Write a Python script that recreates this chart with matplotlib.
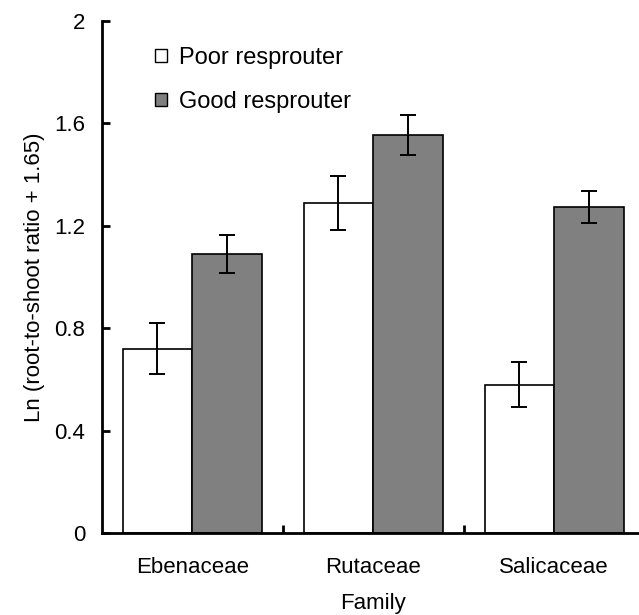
# Librerias

import numpy as np
import matplotlib
matplotlib.use("Agg")
import matplotlib.pyplot as plt
from matplotlib.patches import Patch

plt.rcParams['font.family'] = ['Liberation Sans', 'DejaVu Sans']

# Datos

familias = ["Ebenaceae", "Rutaceae", "Salicaceae"]
poor_vals = [0.72, 1.29, 0.58]
poor_err = [0.10, 0.105, 0.087]
good_vals = [1.09, 1.555, 1.275]
good_err = [0.075, 0.078, 0.063]
y_ticks = [0, 0.4, 0.8, 1.2, 1.6, 2]
y_tick_labels = ["0", "0.4", "0.8", "1.2", "1.6", "2"]

# Figura

fig = plt.figure(figsize=(6.39, 6.15), dpi=100)
ax = fig.add_axes([0.1592, 0.1333, 0.8498, 0.8325])

x = np.arange(len(familias))
w = 0.385

ax.bar(x - w / 2, poor_vals, w, color="white", edgecolor="black", linewidth=1.2, zorder=2)
ax.bar(x + w / 2, good_vals, w, color="#808080", edgecolor="black", linewidth=1.2, zorder=2)
ax.errorbar(x - w / 2, poor_vals, yerr=poor_err, fmt="none", ecolor="black",
            elinewidth=1.4, capsize=5.8, capthick=1.4, zorder=3)
ax.errorbar(x + w / 2, good_vals, yerr=good_err, fmt="none", ecolor="black",
            elinewidth=1.4, capsize=5.8, capthick=1.4, zorder=3)

# Ejes

ax.set_xlim(-0.5, 2.5)
ax.set_ylim(0, 2)
ax.spines["top"].set_visible(False)
ax.spines["right"].set_visible(False)
ax.spines["left"].set_linewidth(2)
ax.spines["bottom"].set_linewidth(2)

ax.set_yticks(y_ticks)
ax.set_yticklabels(y_tick_labels)
ax.tick_params(axis="y", direction="in", length=6, width=2, pad=12, labelsize=16)

ax.set_xticks(x)
ax.set_xticklabels(familias)
ax.set_xticks([0.5, 1.5], minor=True)
ax.tick_params(axis="x", which="major", length=0, pad=17, labelsize=16)
ax.tick_params(axis="x", which="minor", direction="in", length=6, width=2)

ax.set_xlabel("Family", fontsize=16)
ax.set_ylabel("Ln (root-to-shoot ratio + 1.65)", fontsize=16)
ax.xaxis.set_label_coords(0.5, -0.117)
ax.yaxis.set_label_coords(-0.105, 0.5)

# Leyenda

handles = [Patch(facecolor="white", edgecolor="black", linewidth=1.0, label="Poor resprouter"),
           Patch(facecolor="#808080", edgecolor="black", linewidth=1.0, label="Good resprouter")]
ax.legend(handles=handles, loc="upper left", bbox_to_anchor=(0.098, 0.95), frameon=False,
          fontsize=17, handlelength=0.5, handleheight=0.5, handletextpad=0.5,
          labelspacing=0.95, borderpad=0, borderaxespad=0)

fig.savefig("out.png", dpi=100)
